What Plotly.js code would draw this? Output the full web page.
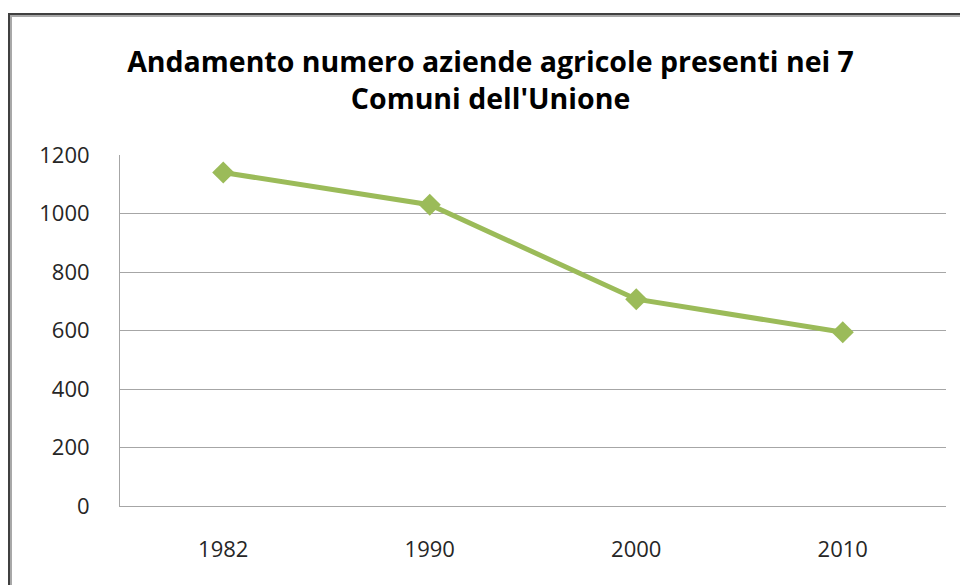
<!DOCTYPE html>
<html>
<head>
<meta charset="utf-8">
<script src="https://cdn.plot.ly/plotly-3.0.1.min.js"></script>
<style>
html,body{margin:0;padding:0;background:#fff;overflow:hidden;}
#chart{width:960px;height:585px;position:relative;}
#frame{position:absolute;left:8px;top:13px;width:1000px;height:1000px;border:2px solid #404040;box-shadow:inset 2px 2px 0 0 #a8a8a8;pointer-events:none;}
</style>
</head>
<body>
<div id="chart"></div>
<div id="frame"></div>
<script>
const years = ['1982', '1990', '2000', '2010'];
const aziende = [1140, 1030, 707, 594];
const yTicks = [0, 200, 400, 600, 800, 1000, 1200];
const titleText = "Andamento numero aziende agricole presenti nei 7<br>Comuni dell'Unione";

const trace = {
  x: years,
  y: aziende,
  type: 'scatter',
  mode: 'lines+markers',
  line: {color: '#9BBB59', width: 5},
  marker: {symbol: 'diamond', size: 17, color: '#9BBB59'},
  hoverinfo: 'x+y'
};

const layout = {
  width: 960,
  height: 585,
  margin: {l: 120, r: 14, t: 155, b: 79},
  paper_bgcolor: '#ffffff',
  plot_bgcolor: '#ffffff',
  showlegend: false,
  font: {family: 'Open Sans, sans-serif', color: '#262626'},
  title: {
    text: '<b>' + titleText + '</b>',
    x: 0.511,
    xanchor: 'center',
    y: 0.877,
    yanchor: 'middle',
    font: {family: 'Open Sans, sans-serif', size: 28.5, color: '#000000'}
  },
  xaxis: {
    type: 'category',
    range: [-0.5, 3.5],
    showgrid: false,
    showline: true,
    linecolor: '#a6a6a6',
    linewidth: 1,
    ticks: '',
    tickfont: {size: 22, color: '#262626'},
    ticklabelstandoff: 24,
    fixedrange: true
  },
  yaxis: {
    range: [0, 1200],
    tickvals: yTicks,
    ticktext: yTicks.map(String),
    showgrid: true,
    gridcolor: '#a6a6a6',
    gridwidth: 1,
    zeroline: false,
    showline: true,
    linecolor: '#a6a6a6',
    linewidth: 1,
    ticks: '',
    tickfont: {size: 22, color: '#262626'},
    ticklabelstandoff: 25,
    fixedrange: true
  }
};

Plotly.newPlot('chart', [trace], layout, {displayModeBar: false, staticPlot: true});
</script>
</body>
</html>
